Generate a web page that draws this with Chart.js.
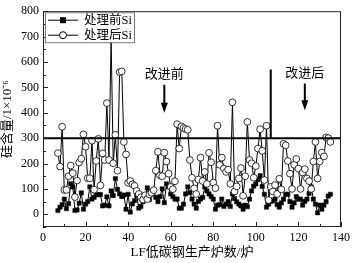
<!DOCTYPE html>
<html>
<head>
<meta charset="utf-8">
<script src="https://cdn.jsdelivr.net/npm/chart.js@4.4.1/dist/chart.umd.min.js"></script>
<style>
    html, body { margin: 0; padding: 0; background: #fff; }
    #wrap { width: 354px; height: 263px; }
</style>
</head>
<body>
<div id="wrap"><canvas id="siChart"></canvas></div>
<script>
// 炉次从第7炉开始
const firstHeat = 7;

// 处理前Si (1e-6)
const siBefore = [
    15, 28, 38, 60, 22, 42, 120, 108, 15, 17, 44, 84, 20, 40, 50, 108, 60, 67, 78, 77,
    78, 33, 36, 69, 33, 92, 74, 141, 98, 80, 70, 76, 20, 79, 9, 41, 54, 75, 24, 31,
    50, 72, 104, 59, 80, 95, 67, 50, 70, 100, 46, 120, 108, 80, 70, 60, 60, 24, 24, 40,
    80, 108, 85, 60, 40, 24, 51, 60, 67, 108, 92, 80, 70, 60, 20, 36, 38, 60, 31, 40,
    50, 31, 80, 62, 49, 40, 33, 20, 36, 30, 60, 92, 111, 120, 137, 152, 110, 79, 28, 40,
    51, 54, 60, 38, 28, 45, 60, 79, 79, 50, 28, 45, 70, 60, 60, 36, 51, 60, 82, 108,
    60, 40, 6, 36, 20, 36, 50, 72, 79
];

// 处理后Si (1e-6)
const siAfter = [
    241, 188, 345, 96, 96, 150, 192, 162, 68, 133, 204, 219, 315, 266, 142, 142, 290, 97, 210, 297,
    114, 240, 214, 438, 214, 690, 201, 313, 172, 560, 563, 285, 236, 124, 131, 118, 112, 92, 80, 67,
    58, 75, 60, 78, 85, 95, 172, 246, 153, 150, 243, 208, 160, 108, 99, 130, 355, 259, 346, 340,
    336, 333, 214, 144, 102, 80, 137, 223, 131, 167, 120, 242, 205, 125, 103, 349, 195, 223, 180, 167,
    176, 120, 441, 90, 110, 141, 182, 73, 150, 364, 214, 201, 144, 190, 259, 335, 250, 135, 349, 56,
    108, 90, 115, 80, 140, 98, 278, 272, 210, 160, 100, 195, 218, 180, 100, 165, 178, 141, 131, 100,
    208, 285, 141, 208, 243, 228, 303, 300, 285
];

const xTicks = [0, 20, 40, 60, 80, 100, 120, 140];
const yTicks = [0, 100, 200, 300, 400, 500, 600, 700, 800];
const limitSi = 300;
const splitHeat = 107;
const splitTop = 570;
const seriesNames = ["处理前Si", "处理后Si"];
const stageNotes = [
    { text: "改进前", heat: 57, top: 510, tip: 400 },
    { text: "改进后", heat: 123, top: 515, tip: 410 },
];

const serif = "'Liberation Serif', 'Noto Sans CJK SC', serif";
const toPoints = (arr) => arr.map((v, i) => ({ x: firstHeat + i, y: v }));

// 框线、向内刻度、图例、箭头
const decor = {
    id: "decor",
    afterDatasetsDraw(chart) {
        const { ctx, chartArea: a, scales } = chart;
        const xs = scales.x, ys = scales.y;
        ctx.save();
        ctx.strokeStyle = "#222";
        ctx.lineWidth = 1;
        ctx.strokeRect(a.left + 0.5, a.top + 0.5, a.right - a.left - 1, a.bottom - a.top - 1);

        ctx.beginPath();
        for (let v = 0; v <= 140; v += 10) {
            const px = Math.round(xs.getPixelForValue(v)) + 0.5;
            const len = v % 20 === 0 ? 5 : 3;
            ctx.moveTo(px, a.bottom);
            ctx.lineTo(px, a.bottom - len);
        }
        for (let v = -50; v <= 800; v += 50) {
            const py = Math.round(ys.getPixelForValue(v)) + 0.5;
            const len = v % 100 === 0 ? 5 : 3;
            ctx.moveTo(a.left, py);
            ctx.lineTo(a.left + len, py);
        }
        ctx.stroke();

        // 图例
        const lx = a.left + 2, ly = a.top + 1, lw = 89, lh = 30;
        ctx.fillStyle = "#fff";
        ctx.fillRect(lx, ly, lw, lh);
        ctx.strokeStyle = "#777";
        ctx.strokeRect(lx + 0.5, ly + 0.5, lw, lh);
        ctx.strokeStyle = "#000";
        ctx.font = "12.5px " + serif;
        ctx.textBaseline = "middle";
        seriesNames.forEach((name, i) => {
            const cy = ly + 8 + i * 15;
            ctx.beginPath();
            ctx.moveTo(lx + 3, cy);
            ctx.lineTo(lx + 33, cy);
            ctx.stroke();
            if (i === 0) {
                ctx.fillStyle = "#000";
                ctx.fillRect(lx + 18 - 3, cy - 3, 6, 6);
            } else {
                ctx.beginPath();
                ctx.arc(lx + 18, cy, 3.5, 0, Math.PI * 2);
                ctx.fillStyle = "#fff";
                ctx.fill();
                ctx.stroke();
            }
            ctx.fillStyle = "#000";
            ctx.fillText(name, lx + 39, cy + 1);
        });

        // 改进前 / 改进后
        ctx.font = "13px " + serif;
        ctx.textAlign = "center";
        stageNotes.forEach((n) => {
            const px = xs.getPixelForValue(n.heat);
            const yTop = ys.getPixelForValue(n.top);
            const yTip = ys.getPixelForValue(n.tip);
            ctx.fillText(n.text, px, yTop - 10);
            ctx.lineWidth = 2;
            ctx.beginPath();
            ctx.moveTo(px, yTop);
            ctx.lineTo(px, yTip - 8);
            ctx.stroke();
            ctx.beginPath();
            ctx.moveTo(px - 3.5, yTip - 10);
            ctx.lineTo(px + 3.5, yTip - 10);
            ctx.lineTo(px, yTip);
            ctx.closePath();
            ctx.fill();
        });
        ctx.restore();
    },
};

new Chart(document.getElementById("siChart"), {
    type: "line",
    data: {
        datasets: [
            {
                label: seriesNames[0],
                data: toPoints(siBefore),
                borderColor: "#000",
                borderWidth: 1,
                pointStyle: "rect",
                pointRadius: 3,
                pointBackgroundColor: "#000",
                pointBorderColor: "#000",
                pointBorderWidth: 0.5,
                order: 2,
            },
            {
                label: seriesNames[1],
                data: toPoints(siAfter),
                borderColor: "#000",
                borderWidth: 1,
                pointStyle: "circle",
                pointRadius: 3.4,
                pointBackgroundColor: "#fff",
                pointBorderColor: "#000",
                pointBorderWidth: 0.8,
                order: 1,
            },
            {
                label: "limit",
                data: [{ x: 0, y: limitSi }, { x: 140, y: limitSi }],
                borderColor: "#000",
                borderWidth: 2,
                pointRadius: 0,
                order: 0,
            },
            {
                label: "split",
                data: [{ x: splitHeat, y: limitSi }, { x: splitHeat, y: splitTop }],
                borderColor: "#000",
                borderWidth: 2,
                pointRadius: 0,
                order: 0,
            },
        ],
    },
    options: {
        responsive: true,
        maintainAspectRatio: false,
        animation: false,
        layout: { padding: { top: 7, right: 10, left: 0, bottom: 0 } },
        scales: {
            x: {
                type: "linear",
                min: 0,
                max: 140,
                afterBuildTicks: (s) => { s.ticks = xTicks.map((v) => ({ value: v })); },
                afterFit: (s) => { s.height = 36; },
                grid: { display: false, drawTicks: false },
                border: { display: false },
                ticks: { color: "#000", font: { family: serif, size: 12 }, padding: 4, maxRotation: 0 },
                title: {
                    display: true,
                    text: "LF低碳钢生产炉数/炉",
                    color: "#000",
                    font: { family: serif, size: 13 },
                    padding: { top: 0, bottom: 3 },
                },
            },
            y: {
                min: -50,
                max: 800,
                afterBuildTicks: (s) => { s.ticks = yTicks.map((v) => ({ value: v })); },
                afterFit: (s) => { s.width = 43; },
                grid: { display: false, drawTicks: false },
                border: { display: false },
                ticks: { color: "#000", font: { family: serif, size: 12 }, padding: 4 },
                title: {
                    display: true,
                    text: "硅含量/1×10⁻⁶",
                    color: "#000",
                    font: { family: serif, size: 13 },
                    padding: { top: 0, bottom: 0 },
                },
            },
        },
        plugins: {
            legend: { display: false },
            tooltip: { enabled: false },
        },
    },
    plugins: [decor],
});
</script>
</body>
</html>
